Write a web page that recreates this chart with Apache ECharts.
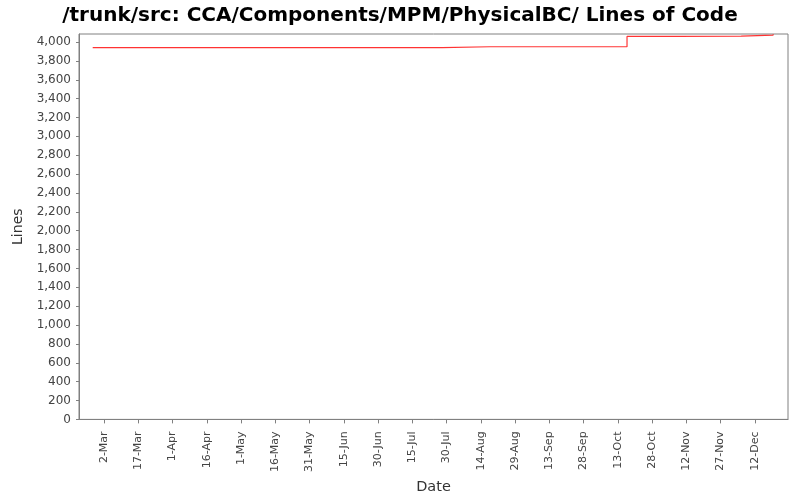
<!DOCTYPE html>
<html>
<head>
<meta charset="utf-8">
<script src="https://cdn.jsdelivr.net/npm/echarts@6/dist/echarts.min.js"></script>
<style>
html,body{margin:0;padding:0;background:#fff;}
#chart{width:800px;height:500px;}
</style>
</head>
<body>
<div id="chart"></div>
<script>
// Data (dates as [year, monthIndex, day])
const dates = [[2007,1,25],[2007,3,13],[2007,3,20],[2007,6,28],[2007,7,18],[2007,9,17],[2007,10,8],[2007,11,6],[2007,11,20]];
const lines = [3940, 3940, 3940, 3950, 3950, 4059, 4063, 4074, 4083];
// x tick labels (every 15 days from 2-Mar)
const xTickLabels = ['2-Mar','17-Mar','1-Apr','16-Apr','1-May','16-May','31-May','15-Jun','30-Jun','15-Jul','30-Jul','14-Aug','29-Aug','13-Sep','28-Sep','13-Oct','28-Oct','12-Nov','27-Nov','12-Dec'];
const yTicks = [0,200,400,600,800,1000,1200,1400,1600,1800,2000,2200,2400,2600,2800,3000,3200,3400,3600,3800,4000];

const DAY = 86400000;
const firstTick = Date.UTC(2007,2,2);
const xTickValues = xTickLabels.map((_, i) => firstTick + i * 15 * DAY);
const labelMap = {};
xTickValues.forEach((v, i) => { labelMap[v] = xTickLabels[i]; });

const seriesData = dates.map((d, i) => [Date.UTC(d[0], d[1], d[2]), lines[i]]);

const chart = echarts.init(document.getElementById('chart'));
const font = 'DejaVu Sans';
chart.setOption({
  backgroundColor: '#ffffff',
  animation: false,
  title: {
    text: '/trunk/src: CCA/Components/MPM/PhysicalBC/ Lines of Code',
    left: 'center',
    top: 1,
    textStyle: { fontFamily: font, fontWeight: 'bold', fontSize: 20, color: '#000' }
  },
  grid: { left: 79, right: 12, top: 34, bottom: 79, show: true, borderColor: '#808080', borderWidth: 1, backgroundColor: '#fff' },
  xAxis: {
    type: 'value',
    min: Date.UTC(2007,1,19),
    max: Date.UTC(2007,11,26,12),
    name: 'Date',
    nameLocation: 'middle',
    nameGap: 54,
    nameTextStyle: { fontFamily: font, fontSize: 14.5, color: '#333' },
    axisLine: { show: true, lineStyle: { color: '#808080' } },
    splitLine: { show: false },
    axisTick: { show: true, length: 4, lineStyle: { color: '#808080' }, customValues: xTickValues },
    axisLabel: {
      customValues: xTickValues,
      rotate: 90,
      margin: 12,
      fontFamily: font, fontSize: 11, color: '#444'
      , formatter: v => labelMap[v] || ''
    }
  },
  yAxis: {
    type: 'value',
    min: 0,
    max: 4085,
    name: 'Lines',
    nameLocation: 'middle',
    nameGap: 52,
    nameTextStyle: { fontFamily: font, fontSize: 14, color: '#333' },
    axisLine: { show: true, lineStyle: { color: '#808080' } },
    splitLine: { show: false },
    axisTick: { show: true, length: 3, lineStyle: { color: '#808080' }, customValues: yTicks },
    axisLabel: {
      customValues: yTicks,
      margin: 8,
      fontFamily: font, fontSize: 12, color: '#444',
      formatter: v => v.toLocaleString('en-US')
    }
  },
  series: [{
    type: 'line',
    step: 'end',
    data: seriesData,
    showSymbol: false,
    lineStyle: { color: 'rgba(255,0,0,0.8)', width: 1.2 },
    itemStyle: { color: '#ff0000' }
  }]
});
</script>
</body>
</html>
